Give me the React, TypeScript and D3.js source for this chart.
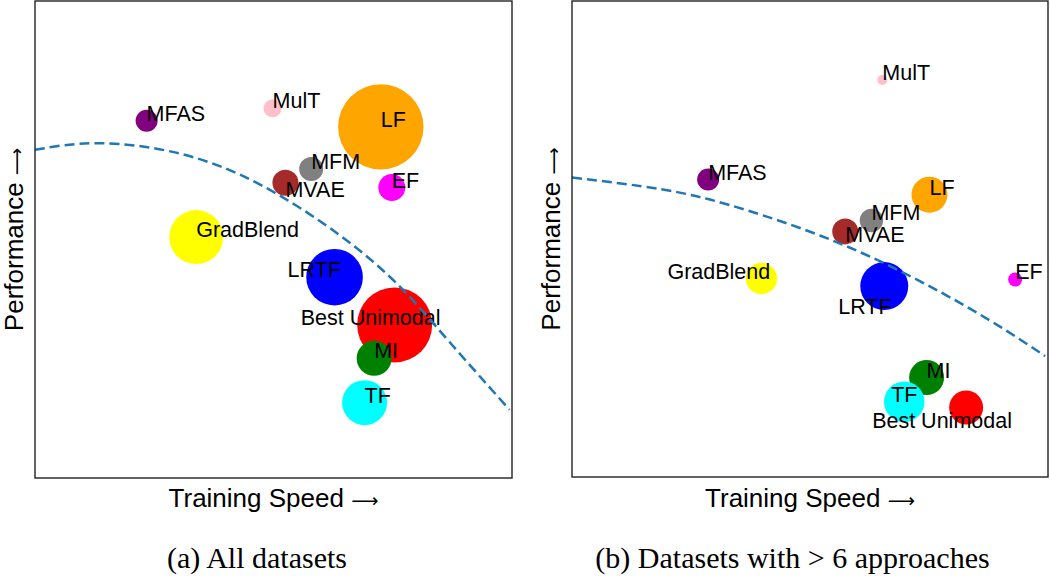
import React from 'react';
import * as d3 from 'd3';

// approaches, same order in both panels (draw order matters: later circles sit on top)
const methods = ['MFAS', 'MulT', 'LF', 'MFM', 'MVAE', 'EF', 'GradBlend', 'LRTF', 'Best Unimodal', 'MI', 'TF'];
const colors = ['purple', 'pink', 'orange', 'gray', 'brown', 'magenta', 'yellow', 'blue', 'red', 'green', 'cyan'];

// (a) all datasets
const speedAll = [23.4, 49.8, 72.5, 57.9, 52.5, 74.8, 33.8, 62.8, 75.4, 71.1, 69.1];
const perfAll = [74.9, 77.5, 73.6, 64.8, 61.9, 60.9, 50.5, 42.1, 32.1, 25.1, 15.8];
const sizeAll = [121, 81, 1823, 144, 169, 182, 729, 801, 1406, 306, 506];
const frontierAllX = [0, 13.3, 30.4, 47.2, 63.9, 76.5, 87.0, 99.5];
const frontierAllY = [68.8, 70.2, 68.0, 61.5, 50.9, 40.1, 28.4, 14.3];

// (b) datasets with > 6 approaches
const speedBig = [28.6, 65.2, 75.1, 62.9, 57.4, 93.1, 39.8, 65.6, 82.8, 74.5, 69.8];
const perfBig = [62.5, 83.4, 59.3, 53.9, 51.6, 41.5, 41.7, 40.1, 14.6, 20.9, 15.8];
const sizeBig = [121, 25, 324, 137, 169, 49, 246, 576, 289, 306, 410];
const frontierBigX = [0, 19.1, 33.2, 47.9, 62.6, 77.3, 89.9, 99.4];
const frontierBigY = [62.9, 60.4, 57.1, 52.3, 46.3, 38.9, 31.6, 25.4];

// label nudges in px (text otherwise starts at the point, baseline on the point)
const nudgeAll: Record<string, [number, number]> = {
  MVAE: [0, 14],
  LRTF: [-47, 0],
  'Best Unimodal': [-94, 0],
};
const nudgeBig: Record<string, [number, number]> = {
  MVAE: [0, 11],
  GradBlend: [-94, 0],
  LRTF: [-46, 28],
  TF: [-13, 0],
  'Best Unimodal': [-94, 20],
};

const sansFont = '"Liberation Sans", Arial, sans-serif';
const serifFont = '"Liberation Serif", "Times New Roman", serif';
const arrowFont = '"DejaVu Sans", sans-serif';

const radius = d3.scaleSqrt().domain([0, 2500]).range([0, 50]);

function Panel({ left, top, size, speed, perf, sizes, fx, fy, nudge, caption, captionX }) {
  const x = d3.scaleLinear().domain([0, 100]).range([left, left + size]);
  const y = d3.scaleLinear().domain([0, 100]).range([top + size, top]);
  const line = d3
    .line<number>()
    .x((d) => x(d))
    .y((_, i) => y(fy[i]))
    .curve(d3.curveNatural);

  return (
    <g>
      {methods.map((m, i) => (
        <circle key={m} cx={x(speed[i])} cy={y(perf[i])} r={radius(sizes[i])} fill={colors[i]} />
      ))}
      {methods.map((m, i) => {
        const [dx, dy] = nudge[m] || [0, 0];
        return (
          <text
            key={m}
            x={x(speed[i]) + dx}
            y={y(perf[i]) + dy}
            fontFamily={sansFont}
            fontSize={21.5}
            fill="#000"
          >
            {m}
          </text>
        );
      })}
      <path d={line(fx) || ''} fill="none" stroke="#1f77b4" strokeWidth={2.5} strokeDasharray="10,5" />
      <rect x={left} y={top} width={size} height={size} fill="none" stroke="#222" strokeWidth={1.4} />
      <text
        x={left + size / 2}
        y={506.5}
        textAnchor="middle"
        fontFamily={sansFont}
        fontSize={26}
        fill="#000"
      >
        Training Speed{' '}
        <tspan fontFamily={arrowFont} fontSize={19}>⟶</tspan>
      </text>
      <text
        transform={`translate(${left - 12.5},${top + size / 2}) rotate(-90)`}
        textAnchor="middle"
        fontFamily={sansFont}
        fontSize={26}
        fill="#000"
      >
        Performance{' '}
        <tspan fontFamily={arrowFont} fontSize={19}>⟶</tspan>
      </text>
      <text x={captionX} y={568} textAnchor="middle" fontFamily={serifFont} fontSize={30} fill="#000">
        {caption}
      </text>
    </g>
  );
}

export default function App() {
  return (
    <svg
      width={1050}
      height={576}
      style={{ position: 'absolute', left: 0, top: 0, background: '#fff' }}
    >
      <Panel
        left={35}
        top={1}
        size={477}
        speed={speedAll}
        perf={perfAll}
        sizes={sizeAll}
        fx={frontierAllX}
        fy={frontierAllY}
        nudge={nudgeAll}
        caption="(a) All datasets"
        captionX={257}
      />
      <Panel
        left={572}
        top={1}
        size={476}
        speed={speedBig}
        perf={perfBig}
        sizes={sizeBig}
        fx={frontierBigX}
        fy={frontierBigY}
        nudge={nudgeBig}
        caption="(b) Datasets with > 6 approaches"
        captionX={792.5}
      />
    </svg>
  );
}
